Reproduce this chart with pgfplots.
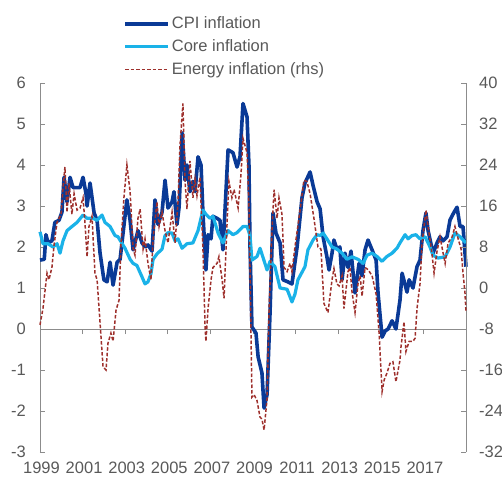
\documentclass[border=0pt]{standalone}
\usepackage{pgfplots}
\pgfplotsset{compat=1.18}
\usepackage{fontspec}
\setmainfont{Liberation Sans}
\definecolor{cpi}{HTML}{0A3A96}
\definecolor{core}{HTML}{1AB2E8}
\definecolor{energy}{HTML}{9E302C}
\definecolor{txt}{HTML}{595959}
\definecolor{axc}{HTML}{8C8C8C}
\newcommand{\lf}{\fontsize{16.5}{19}\selectfont}
\begin{document}
\lf
\begin{tikzpicture}
\useasboundingbox (-40pt,-24pt) rectangle (462pt,452pt);
\begin{axis}[
  at={(0pt,0pt)}, anchor=south west,
  width=426pt, height=369pt, scale only axis,
  xmin=1999, xmax=2019, ymin=-3, ymax=6,
  axis y line*=left, axis x line*=middle,
  hide obscured x ticks=false,
  /pgf/number format/assume math mode=true,
  xtick={1999,2001,...,2019},
  xticklabels={1999,2001,2003,2005,2007,2009,2011,2013,2015,2017,},
  ytick={-3,...,6},
  yticklabels={-3,-2,-1,0,1,2,3,4,5,6},
  tick align=inside, major tick length=5pt,
  x tick style={yshift=-5pt},
  axis line style={axc, line width=0.8pt},
  tick style={axc, line width=0.8pt},
  ticklabel style={text=txt, font=\lf},
  xticklabel style={anchor=north, inner sep=0pt, yshift=-133pt, xshift=1.5pt},
  yticklabel style={anchor=east, inner sep=0pt, xshift=-14pt},
  legend style={at={(rel axis cs:0.195,1.186)}, anchor=north west, draw=none, fill=none,
    font=\lf, text=txt, inner sep=0pt, row sep=4.5pt},
  legend cell align=left,
  legend image code/.code={\draw[#1] (0pt,0pt) -- (43pt,0pt);},
  clip=false,
]
\addplot[cpi, line width=3.6pt, line join=round] coordinates {
(1999.00,1.68)(1999.20,1.70)(1999.28,2.3)(1999.38,2.1)(1999.56,2.15)(1999.70,2.6)(1999.89,2.65)(2000.03,2.85)(2000.13,3.7)(2000.27,3.1)(2000.41,3.7)(2000.55,3.45)(2000.88,3.45)(2001.02,3.7)(2001.16,3.3)(2001.21,3.0)(2001.35,3.56)(2001.54,2.83)(2001.68,2.65)(2001.82,1.85)(2002.00,1.2)(2002.15,1.15)(2002.29,1.63)(2002.43,1.07)(2002.62,1.63)(2002.76,1.7)(2002.90,2.34)(2003.08,3.15)(2003.23,2.65)(2003.37,1.93)(2003.60,2.4)(2003.79,2.1)(2003.93,2.0)(2004.07,2.05)(2004.26,1.9)(2004.40,3.15)(2004.54,2.55)(2004.73,2.85)(2004.87,3.63)(2005.01,2.95)(2005.20,3.1)(2005.29,3.35)(2005.43,2.55)(2005.53,2.97)(2005.68,4.78)(2005.81,3.63)(2005.90,4.0)(2006.04,3.35)(2006.18,3.6)(2006.28,3.35)(2006.42,4.2)(2006.56,4.0)(2006.65,2.83)(2006.79,1.44)(2006.89,2.3)(2007.03,2.2)(2007.12,2.75)(2007.31,2.7)(2007.45,2.65)(2007.59,1.93)(2007.83,4.37)(2008.06,4.3)(2008.25,3.95)(2008.39,4.2)(2008.53,5.5)(2008.72,5.17)(2008.81,4.0)(2008.86,2.0)(2008.95,0.05)(2009.14,-0.1)(2009.24,-0.68)(2009.42,-1.07)(2009.52,-1.93)(2009.66,-1.6)(2009.80,0.4)(2009.94,2.83)(2010.08,2.34)(2010.27,2.1)(2010.41,1.2)(2010.64,1.15)(2010.83,1.1)(2011.07,2.0)(2011.30,3.2)(2011.44,3.56)(2011.68,3.83)(2011.82,3.5)(2012.01,3.1)(2012.15,2.93)(2012.29,2.25)(2012.47,1.76)(2012.57,1.44)(2012.71,1.85)(2012.80,2.17)(2012.94,1.95)(2013.08,2.0)(2013.18,1.2)(2013.32,1.85)(2013.46,1.5)(2013.60,1.9)(2013.79,0.88)(2013.98,1.6)(2014.12,1.3)(2014.26,1.93)(2014.40,2.17)(2014.59,1.93)(2014.78,1.68)(2014.87,0.88)(2015.06,-0.2)(2015.20,-0.05)(2015.34,0.0)(2015.53,0.2)(2015.71,0.0)(2015.90,0.7)(2016.00,1.36)(2016.23,0.9)(2016.33,1.2)(2016.51,1.0)(2016.70,1.52)(2016.84,1.68)(2016.98,2.4)(2017.12,2.83)(2017.22,2.4)(2017.45,1.85)(2017.64,2.1)(2017.78,2.25)(2017.92,2.15)(2018.11,2.25)(2018.25,2.66)(2018.44,2.85)(2018.58,2.97)(2018.72,2.5)(2018.86,2.5)(2019.00,1.52)
};
\addlegendentry{CPI inflation}
\addplot[core, line width=3.2pt, line join=round] coordinates {
(1999.00,2.37)(1999.14,2.08)(1999.38,2.08)(1999.61,2.0)(1999.80,2.08)(1999.94,1.85)(2000.08,2.15)(2000.27,2.4)(2000.50,2.5)(2000.74,2.6)(2001.02,2.78)(2001.21,2.7)(2001.49,2.7)(2001.68,2.65)(2001.91,2.78)(2002.05,2.6)(2002.29,2.5)(2002.52,2.28)(2002.66,2.25)(2002.99,1.97)(2003.23,1.7)(2003.37,1.6)(2003.55,1.55)(2003.79,1.27)(2003.93,1.1)(2004.07,1.15)(2004.21,1.35)(2004.31,1.7)(2004.49,1.83)(2004.73,1.95)(2004.87,2.28)(2005.01,2.35)(2005.20,2.34)(2005.34,2.15)(2005.48,2.2)(2005.67,1.97)(2005.90,2.08)(2006.18,2.1)(2006.42,2.4)(2006.65,2.9)(2006.79,2.8)(2006.98,2.7)(2007.12,2.75)(2007.36,2.34)(2007.59,2.1)(2007.83,2.4)(2008.06,2.3)(2008.25,2.35)(2008.53,2.5)(2008.72,2.5)(2008.86,2.28)(2008.95,1.68)(2009.19,1.77)(2009.33,1.97)(2009.66,1.44)(2009.80,1.65)(2010.03,1.52)(2010.27,1.0)(2010.60,0.97)(2010.83,0.66)(2010.97,0.85)(2011.11,1.2)(2011.44,1.52)(2011.58,1.93)(2011.82,2.17)(2012.01,2.3)(2012.15,2.28)(2012.29,2.34)(2012.47,2.2)(2012.71,2.0)(2012.94,1.95)(2013.18,1.85)(2013.41,1.7)(2013.65,1.76)(2013.93,1.7)(2014.17,1.6)(2014.35,1.8)(2014.59,1.85)(2014.82,1.77)(2015.06,1.65)(2015.29,1.77)(2015.53,1.85)(2015.76,1.97)(2015.90,2.1)(2016.14,2.3)(2016.28,2.2)(2016.47,2.28)(2016.65,2.3)(2016.84,2.2)(2017.08,2.25)(2017.31,2.0)(2017.45,1.8)(2017.69,1.73)(2018.02,1.76)(2018.25,2.0)(2018.48,2.34)(2018.72,2.25)(2019.00,2.1)
};
\addlegendentry{Core inflation}
\addlegendimage{energy, line width=1.5pt, dash pattern=on 3.5pt off 2pt}
\addlegendentry{Energy inflation (rhs)}
\end{axis}
\begin{axis}[
  at={(0pt,0pt)}, anchor=south west,
  width=426pt, height=369pt, scale only axis,
  xmin=1999, xmax=2019, ymin=-32, ymax=40,
  axis y line*=right, axis x line=none,
  /pgf/number format/assume math mode=true,
  ytick={-32,-24,...,40},
  yticklabels={-32,-24,-16,-8,0,8,16,24,32,40},
  tick align=inside, major tick length=5pt,
  axis line style={axc, line width=0.8pt},
  tick style={axc, line width=0.8pt},
  ticklabel style={text=txt, font=\lf},
  yticklabel style={anchor=west, inner sep=0pt, xshift=13pt},
  clip=false,
]
\addplot[energy, line width=1.5pt, dash pattern=on 3.5pt off 2pt] coordinates {
(1999.00,-7.2)(1999.14,-4)(1999.33,2.9)(1999.42,1.6)(1999.56,4)(1999.66,8.4)(1999.80,12.8)(1999.99,14.4)(2000.08,19.6)(2000.17,23.6)(2000.27,14.8)(2000.36,20.4)(2000.50,14.4)(2000.60,18.4)(2000.74,15.2)(2000.88,15.6)(2001.02,17.6)(2001.11,12.8)(2001.21,6.1)(2001.30,12)(2001.44,14)(2001.58,2.9)(2001.68,1.6)(2001.82,-6.8)(2001.96,-15.4)(2002.10,-16)(2002.19,-10.8)(2002.33,-8.8)(2002.43,-10.4)(2002.57,-4.3)(2002.71,-2.4)(2002.80,8.4)(2002.94,17.6)(2003.08,24)(2003.23,18.8)(2003.37,7.6)(2003.46,6.4)(2003.60,13.6)(2003.70,15.4)(2003.84,7.6)(2003.93,9.6)(2004.07,4.8)(2004.21,1.6)(2004.31,9.6)(2004.49,16.8)(2004.59,12)(2004.73,14.8)(2004.87,11.2)(2005.01,8.8)(2005.20,14.8)(2005.34,8.8)(2005.48,16.8)(2005.57,27.6)(2005.71,36)(2005.81,20.8)(2005.90,15.4)(2006.04,24.8)(2006.18,17.6)(2006.28,21.2)(2006.37,18)(2006.51,21.6)(2006.65,7.6)(2006.75,-7.6)(2006.79,-10.4)(2006.89,-4)(2007.03,1.6)(2007.12,4)(2007.31,4.8)(2007.40,6.1)(2007.55,1.6)(2007.64,-2)(2007.78,12.4)(2007.87,20.8)(2008.01,17.6)(2008.11,19.2)(2008.30,15.6)(2008.44,22.4)(2008.53,29.2)(2008.72,26.4)(2008.81,16)(2008.86,4)(2008.95,-21.3)(2009.05,-20.8)(2009.19,-22)(2009.33,-25.2)(2009.42,-25.6)(2009.52,-27.7)(2009.66,-21.6)(2009.75,-4.8)(2009.89,11.2)(2009.99,19.2)(2010.13,13.6)(2010.22,17.6)(2010.36,14.4)(2010.46,4)(2010.60,3.2)(2010.74,4.8)(2010.83,3.2)(2010.97,8)(2011.21,15.2)(2011.39,21)(2011.53,20.8)(2011.68,18.4)(2011.86,13.6)(2012.05,8)(2012.19,7.6)(2012.33,-3)(2012.52,-4.8)(2012.71,1.6)(2012.80,3.8)(2012.94,0.8)(2013.04,0.4)(2013.18,2.4)(2013.27,-4)(2013.46,3.2)(2013.55,4)(2013.65,-0.8)(2013.79,-4.8)(2013.93,0.8)(2014.03,2.4)(2014.12,-1.6)(2014.26,4)(2014.40,3.6)(2014.59,2.4)(2014.78,-1.2)(2014.92,-8.8)(2015.06,-20.2)(2015.16,-17.9)(2015.29,-16.6)(2015.43,-14.7)(2015.57,-14.4)(2015.71,-18.3)(2015.90,-14.1)(2015.95,-11.4)(2016.09,-6.6)(2016.18,-12.4)(2016.33,-10.4)(2016.51,-10.4)(2016.61,-9.8)(2016.70,-4)(2016.84,0.8)(2016.93,8.4)(2017.12,15.2)(2017.22,12)(2017.40,6.8)(2017.50,2.9)(2017.64,7.2)(2017.78,10)(2017.87,8)(2018.02,4.8)(2018.16,8.8)(2018.35,10)(2018.48,12)(2018.63,9.6)(2018.77,7.6)(2018.86,2.9)(2018.95,-0.8)(2019.00,-4.8)
};
\end{axis}
\end{tikzpicture}
\end{document}
